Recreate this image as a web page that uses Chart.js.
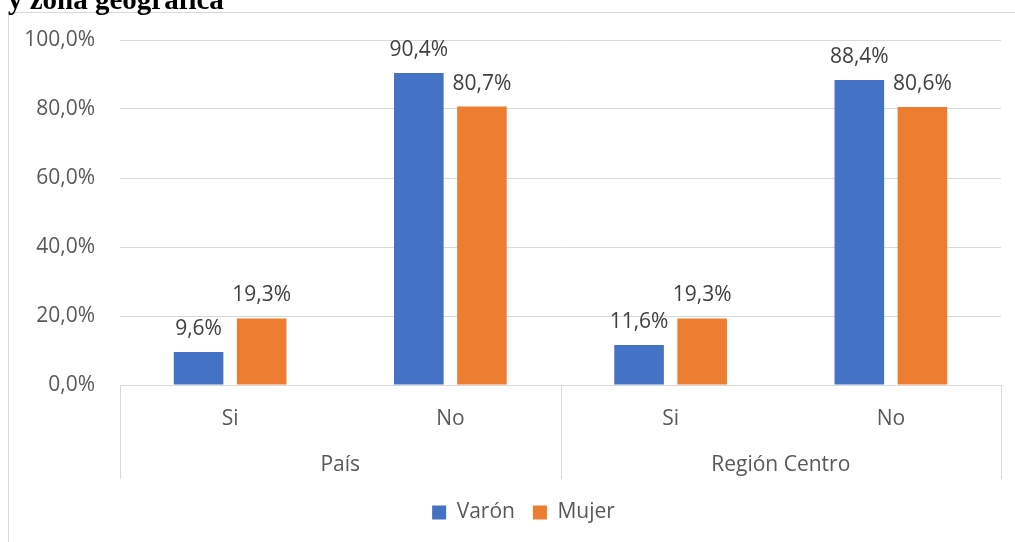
<!DOCTYPE html>
<html lang="es">
<head>
<meta charset="utf-8">
<title>Chart</title>
<script src="https://cdn.jsdelivr.net/npm/chart.js"></script>
<style>
    html, body { margin: 0; padding: 0; background: #fff; overflow: hidden; }
    #wrap { position: relative; width: 1015px; height: 542px; }
    #frame {
        position: absolute; left: 8px; top: 12px; right: 0; bottom: 0;
        border-top: 1px solid #d9d9d9; border-left: 1px solid #d9d9d9;
    }
    #title {
        position: absolute; left: 8px; top: -15px; margin: 0;
        font: bold 29px/28px "Liberation Serif", "Times New Roman", serif;
        color: #000; white-space: nowrap;
    }
    #chart { position: absolute; left: 0; top: 0; }
</style>
</head>
<body>
<div id="wrap">
    <div id="frame"></div>
    <canvas id="chart" width="1015" height="542"></canvas>
    <p id="title">y zona geográfica</p>
</div>
<script>
// Datos del gráfico
const categories = ['Si', 'No', 'Si', 'No'];
const groups = ['País', 'Región Centro'];
const varon = [9.6, 90.4, 11.6, 88.4];
const mujer = [19.3, 80.7, 19.3, 80.6];
const yTicks = [0, 20, 40, 60, 80, 100];

const fmt = v => v.toFixed(1).replace('.', ',') + '%';
const FONT = "'Open Sans', 'Noto Sans', sans-serif";
const SIZE = 21;

// Etiquetas de valor sobre las barras
const valueLabels = {
    id: 'valueLabels',
    afterDatasetsDraw(chart) {
        const ctx = chart.ctx;
        ctx.save();
        ctx.font = SIZE + 'px ' + FONT;
        ctx.fillStyle = '#404040';
        ctx.textAlign = 'center';
        ctx.textBaseline = 'alphabetic';
        chart.data.datasets.forEach((ds, i) => {
            chart.getDatasetMeta(i).data.forEach((bar, j) => {
                ctx.fillText(fmt(ds.data[j]), bar.x, bar.y - 17);
            });
        });
        ctx.restore();
    }
};

// Eje de categorías con dos niveles
const groupAxis = {
    id: 'groupAxis',
    afterLayout(chart) {
        // leyenda centrada en el marco del gráfico, no en el lienzo
        chart.legend.left += 46;
        chart.legend.right += 0;
    },
    afterDraw(chart) {
        const x = chart.scales.x;
        const ctx = chart.ctx;
        const top = chart.chartArea.bottom;
        const bottom = top + 94;
        const mid = (x.getPixelForValue(1) + x.getPixelForValue(2)) / 2;
        ctx.save();
        ctx.strokeStyle = '#d9d9d9';
        ctx.lineWidth = 1;
        [x.left, mid, x.right].forEach(px => {
            const p = Math.round(px) + 0.5;
            ctx.beginPath();
            ctx.moveTo(p, top);
            ctx.lineTo(p, bottom);
            ctx.stroke();
        });
        ctx.font = SIZE + 'px ' + FONT;
        ctx.fillStyle = '#595959';
        ctx.textAlign = 'center';
        ctx.textBaseline = 'middle';
        ctx.fillText(groups[0], (x.left + mid) / 2, top + 80);
        ctx.fillText(groups[1], (mid + x.right) / 2, top + 80);
        ctx.restore();
    }
};

new Chart(document.getElementById('chart'), {
    type: 'bar',
    data: {
        labels: categories,
        datasets: [
            { label: 'Varón', data: varon, backgroundColor: '#4472C4' },
            { label: 'Mujer', data: mujer, backgroundColor: '#ED7D31' }
        ]
    },
    options: {
        responsive: false,
        animation: false,
        categoryPercentage: 0.573,
        barPercentage: 0.786,
        layout: { padding: { top: 40, right: 14, bottom: 9, left: 0 } },
        plugins: {
            legend: {
                position: 'bottom',
                labels: {
                    boxWidth: 14,
                    boxHeight: 14,
                    padding: 18,
                    color: '#595959',
                    font: { family: FONT, size: SIZE }
                }
            },
            tooltip: { enabled: false }
        },
        scales: {
            x: {
                grid: { display: false, drawTicks: false },
                border: { display: true, color: '#d9d9d9' },
                ticks: {
                    color: '#595959',
                    padding: 21,
                    maxRotation: 0,
                    font: { family: FONT, size: SIZE }
                },
                afterFit(scale) { scale.height = 99; }
            },
            y: {
                min: 0,
                max: 100,
                afterBuildTicks(scale) { scale.ticks = yTicks.map(v => ({ value: v })); },
                grid: { color: '#d9d9d9', drawTicks: false },
                border: { display: false },
                ticks: {
                    color: '#595959',
                    padding: 25,
                    font: { family: FONT, size: SIZE },
                    callback: v => fmt(v)
                },
                afterFit(scale) { scale.width = 120; }
            }
        }
    },
    plugins: [valueLabels, groupAxis]
});
</script>
</body>
</html>
